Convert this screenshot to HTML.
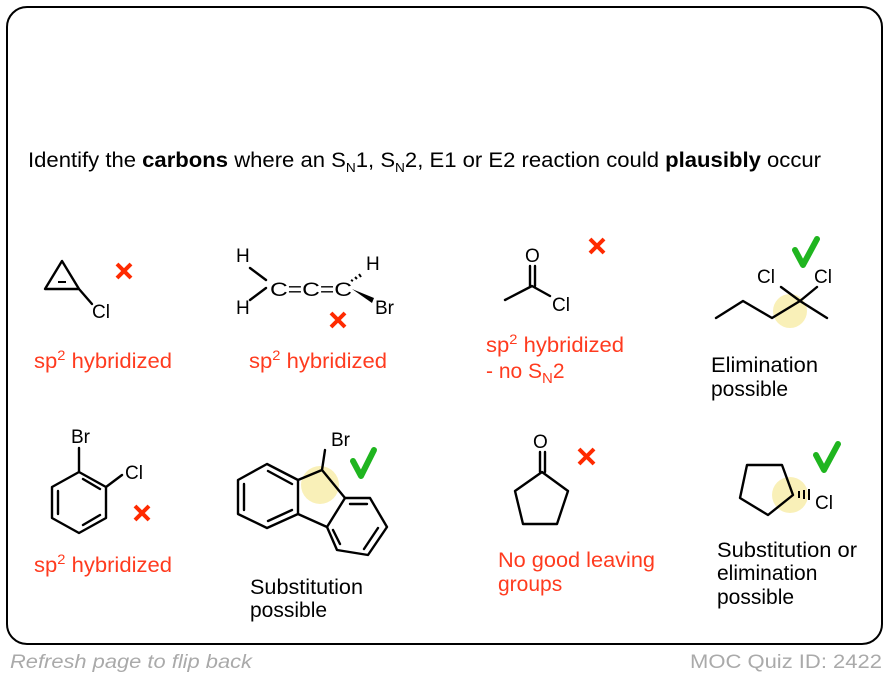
<!DOCTYPE html>
<html><head><meta charset="utf-8"><style>
html,body{margin:0;padding:0;background:#fff;}
svg{display:block;}
text{font-family:"Liberation Sans",Arial,sans-serif;}
.r{fill:#ff3b1f;font-size:21px;}
.k{fill:#000;font-size:21px;}
.a{fill:#000;font-size:19px;}
.b{stroke:#000;stroke-width:2.4;fill:none;stroke-linecap:round;stroke-linejoin:round;}
.x{stroke:#ff2a00;stroke-width:4;stroke-linecap:butt;}
.c{stroke:#1fb51f;stroke-width:6;fill:none;stroke-linecap:round;stroke-linejoin:round;}
.y{fill:#f7ea9a;opacity:.7;}
</style></head><body>
<svg width="890" height="678" viewBox="0 0 890 678" xmlns="http://www.w3.org/2000/svg">
<rect x="7" y="7" width="875" height="637" rx="20" fill="#fff" stroke="#000" stroke-width="2"/>
<text x="28" y="167" class="k" font-size="19" textLength="793" lengthAdjust="spacingAndGlyphs">Identify the <tspan font-weight="bold">carbons</tspan> where an S<tspan font-size="13" dy="5">N</tspan><tspan dy="-5">1, S</tspan><tspan font-size="13" dy="5">N</tspan><tspan dy="-5">2, E1 or E2 reaction could </tspan><tspan font-weight="bold">plausibly</tspan> occur</text>

<!-- cyclopropene -->
<path class="b" d="M62 261 L45 289 L79 289 Z M79 289 L92 304"/>
<line x1="58" y1="282" x2="66" y2="282" stroke="#000" stroke-width="2"/>
<text x="92" y="318" class="a">Cl</text>
<path class="x" d="M117 264 L131 278 M131 264 L117 278"/>
<text x="34" y="368" class="r" textLength="138" lengthAdjust="spacingAndGlyphs">sp<tspan font-size="14" dy="-8">2</tspan><tspan dy="8"> hybridized</tspan></text>

<!-- allene -->
<text x="236" y="262" class="a">H</text>
<text x="236" y="314" class="a">H</text>
<path class="b" d="M250 268 L266 280 M250 300 L266 288"/>
<text x="270" y="296" class="a" font-size="20" textLength="82" lengthAdjust="spacingAndGlyphs">C=C=C</text>
<path d="M351 280 l2 1 M355 277 l2 2 M359 274 l2 3" stroke="#000" stroke-width="2"/>
<text x="366" y="270" class="a">H</text>
<path d="M352 289 L374 298 L372 303 Z" fill="#000"/>
<text x="375" y="314" class="a">Br</text>
<path class="x" d="M331 313 L345 327 M345 313 L331 327"/>
<text x="249" y="368" class="r" textLength="138" lengthAdjust="spacingAndGlyphs">sp<tspan font-size="14" dy="-8">2</tspan><tspan dy="8"> hybridized</tspan></text>

<!-- acetyl chloride -->
<text x="525" y="262" class="a">O</text>
<path class="b" d="M530 266 L530 286 M535 266 L535 286 M505 300 L532 286 L550 296"/>
<text x="552" y="311" class="a">Cl</text>
<path class="x" d="M590 239 L604 253 M604 239 L590 253"/>
<text x="486" y="352" class="r" textLength="138" lengthAdjust="spacingAndGlyphs">sp<tspan font-size="14" dy="-8">2</tspan><tspan dy="8"> hybridized</tspan></text>
<text x="486" y="378" class="r">- no S<tspan font-size="15" dy="5">N</tspan><tspan dy="-5">2</tspan></text>

<!-- dichloride -->
<circle cx="790" cy="311" r="17" class="y"/>
<path class="b" d="M716 318 L743 301 L772 318 L800 301 L827 318 M800 301 L781 287 M800 301 L817 287"/>
<text x="757" y="283" class="a">Cl</text>
<text x="814" y="283" class="a">Cl</text>
<path class="c" d="M795 250 L803 265 L817 239"/>
<text x="711" y="372" class="k" textLength="107" lengthAdjust="spacingAndGlyphs">Elimination</text>
<text x="711" y="396" class="k">possible</text>

<!-- bromochlorobenzene -->
<path class="b" d="M79 472 L106 487 L106 518 L79 533 L52 518 L52 487 Z M79 472 L79 448 M106 487 L122 475"/>
<path class="b" d="M83 479 L100 489 M100 515 L83 525 M58 491 L58 514"/>
<text x="71" y="443" class="a">Br</text>
<text x="125" y="479" class="a">Cl</text>
<path class="x" d="M135 506 L149 520 M149 506 L135 520"/>
<text x="34" y="572" class="r" textLength="138" lengthAdjust="spacingAndGlyphs">sp<tspan font-size="14" dy="-8">2</tspan><tspan dy="8"> hybridized</tspan></text>

<!-- fluorene -->
<circle cx="320" cy="485" r="19" class="y"/>
<path class="b" d="M267 464 L298 480 L298 514 L267 528 L238 514 L238 480 Z"/>
<path class="b" d="M268 471 L292 484 M292 510 L268 521 M244 484 L244 510"/>
<path class="b" d="M298 480 L322 470 L345 498 L327 527 L298 514 M322 470 L325 450"/>
<path class="b" d="M345 498 L370 498 L387 527 L368 555 L337 550 L327 527"/>
<path class="b" d="M350 504 L367 504 M378 528 L364 549 M340 544 L333 530"/>
<text x="331" y="446" class="a">Br</text>
<path class="c" d="M353 461 L361 476 L374 450"/>
<text x="250" y="594" class="k" textLength="113" lengthAdjust="spacingAndGlyphs">Substitution</text>
<text x="250" y="617" class="k">possible</text>

<!-- cyclopentanone -->
<text x="533" y="448" class="a">O</text>
<path class="b" d="M540 452 L540 472 M545 452 L545 472"/>
<path class="b" d="M542 472 L568 491 L557 524 L523 524 L515 491 Z"/>
<path class="x" d="M579 449 L594 464 M594 449 L579 464"/>
<text x="498" y="567" class="r" textLength="157" lengthAdjust="spacingAndGlyphs">No good leaving</text>
<text x="498" y="591" class="r">groups</text>

<!-- chlorocyclopentane -->
<circle cx="790" cy="495" r="18" class="y"/>
<path class="b" d="M747 465 L782 465 L793 495 L768 515 L740 498 Z"/>
<path d="M799 491 l0 7 M804 490 l0 9 M809 489 l0 11" stroke="#000" stroke-width="2"/>
<text x="815" y="509" class="a">Cl</text>
<path class="c" d="M816 455 L824 470 L838 444"/>
<text x="717" y="557" class="k" textLength="140" lengthAdjust="spacingAndGlyphs">Substitution or</text>
<text x="717" y="580" class="k">elimination</text>
<text x="717" y="604" class="k">possible</text>

<text x="10" y="668" fill="#aaa" font-size="19" font-style="italic" textLength="242" lengthAdjust="spacingAndGlyphs">Refresh page to flip back</text>
<text x="690" y="668" fill="#aaa" font-size="19" textLength="192" lengthAdjust="spacingAndGlyphs">MOC Quiz ID: 2422</text>
</svg>
</body></html>
